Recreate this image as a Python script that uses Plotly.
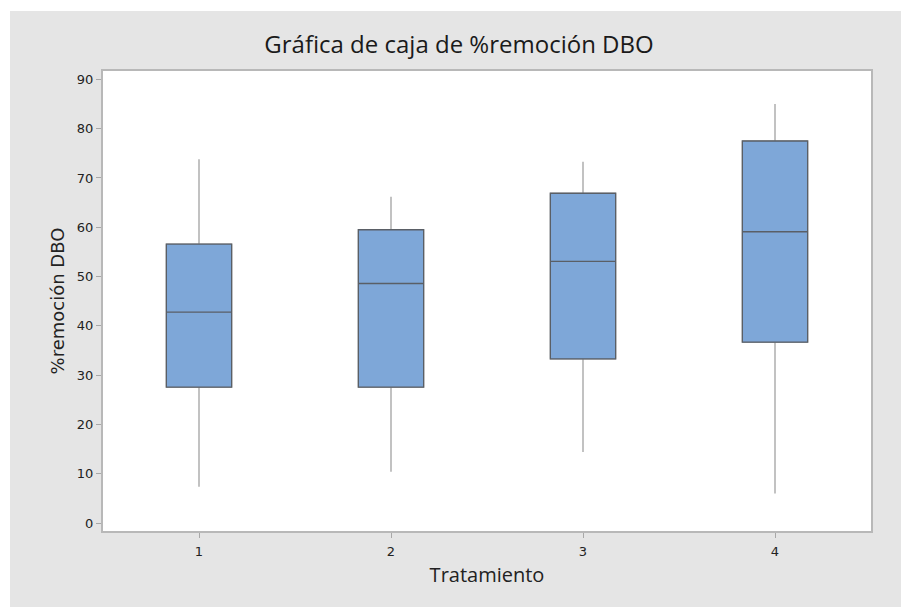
import plotly.graph_objects as go

categories = ["1", "2", "3", "4"]
x_pos = [1, 2, 3, 4]
lower_whisker = [7.4, 10.4, 14.4, 6.0]
q1 = [27.6, 27.6, 33.3, 36.7]
median = [42.8, 48.6, 53.1, 59.1]
q3 = [56.6, 59.5, 66.9, 77.5]
upper_whisker = [73.8, 66.2, 73.3, 85.0]
y_ticks = [0, 10, 20, 30, 40, 50, 60, 70, 80, 90]

W, H = 901, 607
L, R, T, B = 103, 30, 71, 76
pw, ph = W - L - R, H - T - B

TITLE_FONT = "Open Sans, Noto Sans, sans-serif"
AXIS_FONT = "DejaVu Sans, sans-serif"

fig = go.Figure()
# whiskers (lighter grey)
fig.add_trace(go.Box(
    x=x_pos, q1=q1, median=median, q3=q3,
    lowerfence=lower_whisker, upperfence=upper_whisker,
    width=0.34, whiskerwidth=0,
    fillcolor="rgba(0,0,0,0)", line=dict(color="#9a9a9a", width=1.2),
    boxpoints=False, hoverinfo="skip", showlegend=False,
))
# boxes (darker border)
fig.add_trace(go.Box(
    x=x_pos, q1=q1, median=median, q3=q3,
    lowerfence=q1, upperfence=q3,
    width=0.34, whiskerwidth=0,
    fillcolor="#7ea7d8", line=dict(color="#5a5f66", width=1.3),
    boxpoints=False, showlegend=False,
))

shapes = [
    # white top and left strips of the outer frame
    dict(type="rect", xref="paper", yref="paper",
         x0=-L / pw - 0.01, x1=(W - L) / pw + 0.01,
         y0=(H - B - 11) / ph, y1=(H - B) / ph + 0.01,
         fillcolor="white", line=dict(width=0), layer="below"),
    dict(type="rect", xref="paper", yref="paper",
         x0=-L / pw - 0.01, x1=(10 - L) / pw,
         y0=-B / ph - 0.01, y1=(H - B) / ph + 0.01,
         fillcolor="white", line=dict(width=0), layer="below"),
]

fig.update_layout(
    width=W, height=H,
    margin=dict(l=L, r=R, t=T, b=B),
    paper_bgcolor="#e5e5e5",
    plot_bgcolor="white",
    boxmode="overlay",
    shapes=shapes,
    font=dict(family=AXIS_FONT, color="#222222"),
    title=dict(text="Gráfica de caja de %remoción DBO", x=459 / W, xanchor="center",
               y=1 - 45 / H, yanchor="middle",
               font=dict(size=24, color="#1a1a1a", family=TITLE_FONT)),
    xaxis=dict(
        range=[0.5, 4.5], tickvals=x_pos, ticktext=categories,
        ticks="outside", ticklen=5, tickcolor="#a8a8a8", tickwidth=1,
        ticklabelstandoff=2,
        showline=True, linecolor="#b8b8b8", linewidth=2, mirror=True,
        showgrid=False, zeroline=False,
        tickfont=dict(size=13, color="#222222", family=AXIS_FONT),
        title=dict(text="Tratamiento", font=dict(size=20, color="#222222", family=TITLE_FONT),
                   standoff=10),
    ),
    yaxis=dict(
        range=[-1.6, 91.7], tickvals=y_ticks,
        ticks="outside", ticklen=5, tickcolor="#a8a8a8", tickwidth=1,
        showline=True, linecolor="#b8b8b8", linewidth=2, mirror=True,
        showgrid=False, zeroline=False,
        tickfont=dict(size=13, color="#222222", family=AXIS_FONT),
        title=dict(text="%remoción DBO", font=dict(size=18, color="#222222", family=AXIS_FONT),
                   standoff=8),
    ),
)

fig.write_html("out.html", config={"displayModeBar": False},
               post_script="document.body.style.margin='0px';")
